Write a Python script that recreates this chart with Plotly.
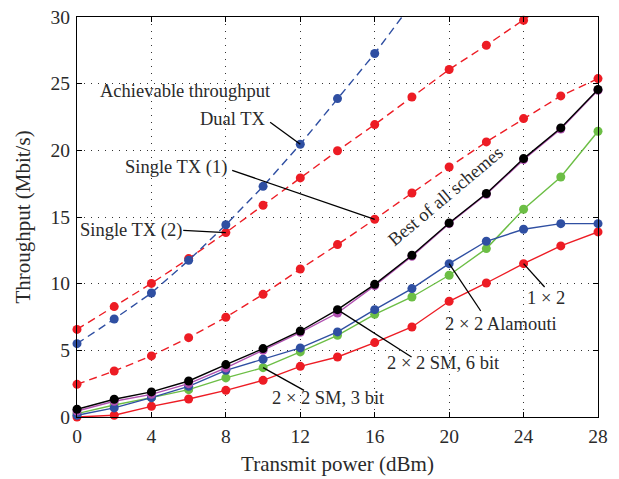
import plotly.graph_objects as go

power = [0, 2, 4, 6, 8, 10, 12, 14, 16, 18, 20, 22, 24, 26, 28]

dual_tx_x = [0, 2, 4, 6, 8, 10, 12, 14, 16, 18]
dual_tx = [5.5, 7.35, 9.3, 11.75, 14.42, 17.3, 20.46, 23.88, 27.26, 31.0]

single_tx2_x = [0, 2, 4, 6, 8, 10, 12, 14, 16, 18, 20, 22, 24, 26]
single_tx2 = [6.57, 8.28, 10.02, 11.88, 13.83, 15.88, 17.93, 19.97, 21.93, 24.0, 26.06, 27.88, 29.76, 31.7]

single_tx1 = [2.45, 3.45, 4.58, 5.95, 7.48, 9.2, 11.1, 12.93, 14.83, 16.8, 18.75, 20.63, 22.38, 24.08, 25.38]

best_all = [0.58, 1.33, 1.88, 2.7, 3.93, 5.13, 6.45, 8.05, 9.95, 12.13, 14.55, 16.76, 19.38, 21.68, 24.56]
sm_6bit = [0.45, 1.18, 1.7, 2.5, 3.68, 5.0, 6.35, 7.8, 9.85, 12.05, 14.5, 16.7, 19.3, 21.6, 24.5]
alamouti = [0.13, 0.68, 1.45, 2.3, 3.5, 4.33, 5.18, 6.38, 8.05, 9.63, 11.5, 13.18, 14.08, 14.5, 14.5]
sm_3bit = [0.25, 0.9, 1.45, 2.05, 2.93, 3.7, 4.88, 6.13, 7.7, 9.0, 10.63, 12.63, 15.58, 18.0, 21.43]
one_by_two = [0.0, 0.13, 0.8, 1.35, 2.0, 2.75, 3.8, 4.5, 5.58, 6.75, 8.68, 10.05, 11.5, 12.83, 13.88]

x_ticks = [0, 4, 8, 12, 16, 20, 24, 28]
y_ticks = [0, 5, 10, 15, 20, 25, 30]

RED = "#ed1c24"
BLUE = "#2f4fa2"
GREEN = "#6cbe45"
MAGENTA = "#b050b0"
BLACK = "#000000"
FONT = "Liberation Serif"
TXT = "#2a2a2a"
YMAX = 30

fig = go.Figure()


def add_series(xs, ys, color, dashed):
    fig.add_trace(go.Scatter(
        x=xs, y=ys, mode="lines",
        line=dict(color=color, width=1.4, dash="8px,5px" if dashed else "solid"),
        hoverinfo="skip", showlegend=False))
    mx = [a for a, b in zip(xs, ys) if b <= YMAX]
    my = [b for b in ys if b <= YMAX]
    fig.add_trace(go.Scatter(
        x=mx, y=my, mode="markers",
        marker=dict(color=color, size=9, line=dict(width=0)),
        cliponaxis=False, showlegend=False))


add_series(power, single_tx1, RED, True)
add_series(single_tx2_x, single_tx2, RED, True)
add_series(dual_tx_x, dual_tx, BLUE, True)
add_series(power, one_by_two, RED, False)
add_series(power, sm_3bit, GREEN, False)
add_series(power, alamouti, BLUE, False)
add_series(power, sm_6bit, MAGENTA, False)
add_series(power, best_all, BLACK, False)

# labels (text)
labels = [
    ("Achievable throughput", 5.82, 24.46),
    ("Dual TX", 8.4, 22.32),
    ("Single TX (1)", 5.3, 18.68),
    ("Single TX (2)", 2.88, 14.0),
    ("1 × 2", 25.2, 8.9),
    ("2 × 2 Alamouti", 22.8, 6.95),
    ("2 × 2 SM, 6 bit", 19.69, 4.03),
    ("2 × 2 SM, 3 bit", 13.52, 1.4),
]
for t, lx, ly in labels:
    fig.add_annotation(x=lx, y=ly, text=t, showarrow=False,
                       font=dict(family=FONT, size=18.5, color=TXT),
                       xanchor="center", yanchor="middle")

fig.add_annotation(x=19.82, y=16.56, text="Best of all schemes", showarrow=False,
                   textangle=-40, font=dict(family=FONT, size=18.5, color=TXT),
                   xanchor="center", yanchor="middle")

# leader lines: (start x, start y) -> data point
leaders = [
    (10.38, 22.1, power[6], dual_tx[6]),
    (8.34, 18.5, power[8], single_tx1[8]),
    (5.71, 14.0, power[4], single_tx2[4]),
    (25.13, 9.75, power[12], one_by_two[12]),
    (21.7, 7.95, power[10], alamouti[10]),
    (17.98, 4.5, power[7], best_all[7]),
    (12.2, 2.0, power[5], sm_3bit[5]),
]
for x0, y0, x1, y1 in leaders:
    fig.add_shape(type="line", x0=x0, y0=y0, x1=x1, y1=y1,
                  line=dict(color="black", width=1.3), layer="above")

axis_common = dict(
    showline=True, linecolor="black", linewidth=1.3, mirror="ticks",
    ticks="inside", ticklen=5, tickcolor="black", tickwidth=1,
    showgrid=True, gridcolor="#333", gridwidth=1, griddash="1px,6px",
    zeroline=False, tickfont=dict(family=FONT, size=19.5, color=TXT),
    automargin=False,
)

fig.update_layout(
    width=619, height=479,
    margin=dict(l=77, r=21, t=17, b=62),
    paper_bgcolor="white", plot_bgcolor="white",
    xaxis=dict(range=[0, 28], tickvals=x_ticks, ticklabelstandoff=1,
               title=dict(text="Transmit power (dBm)", font=dict(family=FONT, size=21, color=TXT), standoff=10),
               **axis_common),
    yaxis=dict(range=[0, 30], tickvals=y_ticks, ticklabelstandoff=2,
               title=dict(text="Throughput (Mbit/s)", font=dict(family=FONT, size=21, color=TXT), standoff=14),
               **axis_common),
    showlegend=False,
)

fig.write_html("out.html")
